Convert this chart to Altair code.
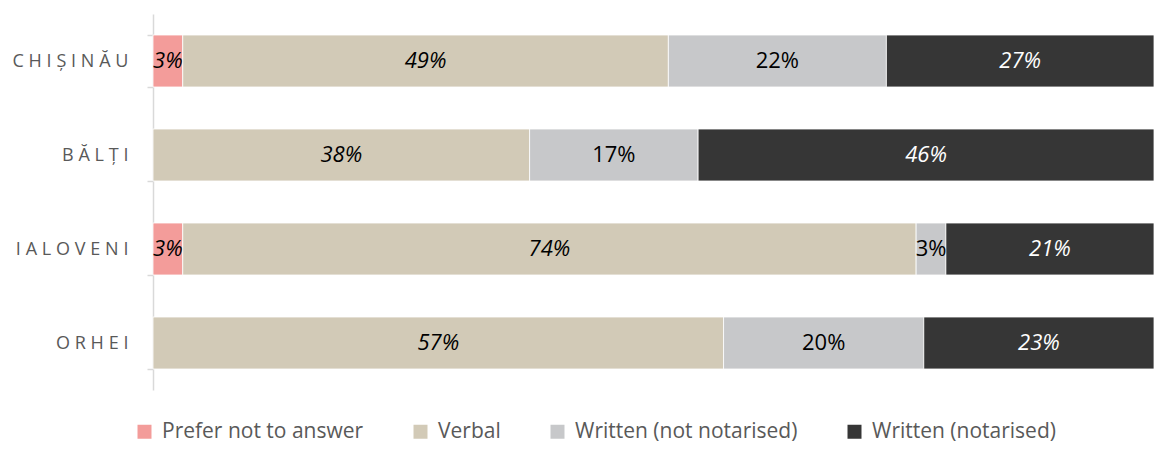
import altair as alt
import pandas as pd

cities = ["CHIȘINĂU", "BĂLȚI", "IALOVENI", "ORHEI"]
categories = ["Prefer not to answer", "Verbal", "Written (not notarised)", "Written (notarised)"]
colors = ["#F39C9A", "#D2CAB7", "#C7C8CA", "#363636"]

prefer = [3, 0, 3, 0]
verbal = [49, 38, 74, 57]
written_not = [22, 17, 3, 20]
written_notarised = [27, 46, 21, 23]

rows = []
for i, c in enumerate(cities):
    for j, (cat, vals) in enumerate(zip(categories, [prefer, verbal, written_not, written_notarised])):
        if vals[i] > 0:
            rows.append({"city": c, "cat": cat, "order": j, "value": vals[i]})
df = pd.DataFrame(rows)

FONT = "Open Sans"

base = alt.Chart(df).transform_joinaggregate(
    total="sum(value)", groupby=["city"]
).transform_calculate(
    pct="datum.value / datum.total",
    label="format(datum.value, 'd') + '%'"
).transform_stack(
    stack="pct", groupby=["city"], as_=["p0", "p1"],
    sort=[alt.SortField("order", order="ascending")]
).transform_calculate(
    mid="(datum.p0 + datum.p1) / 2"
)

yenc = alt.Y("city:N", sort=cities, title=None,
             scale=alt.Scale(paddingInner=0.447, paddingOuter=0.2235),
             axis=alt.Axis(domainColor="#D9D9D9", tickColor="#D9D9D9", tickSize=6,
                           tickBand="extent", labelColor="#595959", labelFontSize=18,
                           labelFont=FONT, labelPadding=19, domainWidth=1.5, tickWidth=1.5,
                           labelExpr="join(split(datum.label, ''), '\u2009\u200a')"))
xscale = alt.Scale(domain=[0, 1], nice=False, zero=True)

bars = base.mark_bar(stroke="white", strokeWidth=0.8).encode(
    x=alt.X("p0:Q", scale=xscale, axis=None),
    x2="p1:Q",
    y=yenc,
    color=alt.Color("cat:N", sort=categories,
                    scale=alt.Scale(domain=categories, range=colors),
                    legend=alt.Legend(title=None, orient="none", direction="horizontal",
                                      legendX=-19, legendY=407,
                                      labelFont=FONT, labelFontSize=21, labelColor="#595959",
                                      symbolType="square", symbolSize=196, symbolStrokeWidth=0,
                                      columnPadding=46, labelOffset=7, labelLimit=400)),
)

italic = base.transform_filter(
    "datum.cat != 'Written (not notarised)'"
).mark_text(font=FONT, fontSize=22, fontStyle="italic").encode(
    x=alt.X("mid:Q", scale=xscale),
    y=alt.Y("city:N", sort=cities),
    text="label:N",
    color=alt.condition("datum.cat == 'Written (notarised)'", alt.value("white"), alt.value("black")),
)

normal = base.transform_filter(
    "datum.cat == 'Written (not notarised)'"
).mark_text(font=FONT, fontSize=22, color="black").encode(
    x=alt.X("mid:Q", scale=xscale),
    y=alt.Y("city:N", sort=cities),
    text="label:N",
)

chart = alt.layer(bars, italic, normal).properties(
    width=1001, height=376,
    autosize=alt.AutoSizeParams(type="none"),
    padding={"left": 145, "top": 6, "right": 0, "bottom": 54},
).configure_view(stroke=None)

chart.save("out.html", embed_options={"renderer": "svg", "actions": False})
